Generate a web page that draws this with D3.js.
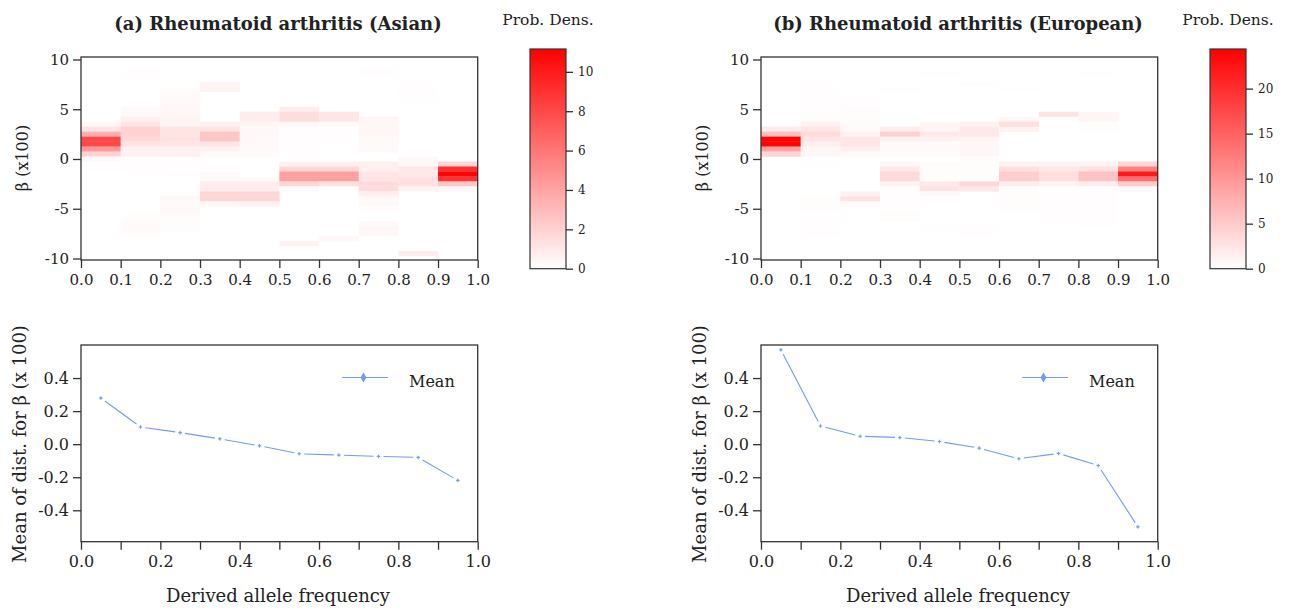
<!DOCTYPE html>
<html lang="en">

<head>
    <meta charset="utf-8">
    <title>Rheumatoid arthritis - beta vs DAF</title>
    <script type="text/javascript" src="https://cdn.jsdelivr.net/npm/d3@7"></script>
    <style>
        body { margin: 0; background: #fff; }
        svg text { font-family: "DejaVu Serif", serif; fill: #222; }
        .frame { fill: none; stroke: #333; stroke-width: 1.3; }
        .axis path { display: none; }
        .axis line { stroke: #333; stroke-width: 1.3; }
    </style>
</head>

<body>
    <script type="text/javascript">
        // Width and height
        var w = 1290;
        var h = 610;

        // Data ------------------------------------------------
        var titles = ["(a) Rheumatoid arthritis (Asian)", "(b) Rheumatoid arthritis (European)"];
        var freqBins = [0.0, 0.1, 0.2, 0.3, 0.4, 0.5, 0.6, 0.7, 0.8, 0.9]; // left edge of each DAF bin
        var betaStep = 0.5;
        var heatTicksY = [-10, -5, 0, 5, 10];
        var heatTicksX = [0.0, 0.1, 0.2, 0.3, 0.4, 0.5, 0.6, 0.7, 0.8, 0.9, 1.0];

        // one list per DAF bin: [beta centre, prob. density]
        var densityAsian = [
            [[3.5, 0.3], [3, 1.2], [2.5, 3.5], [2, 8], [1.5, 8], [1, 4.5], [0.5, 2], [0, 0.3], [-0.5, 0.1]],
            [[9, 0.1], [8.5, 0.1], [8, 0.1], [5, 0.2], [4.5, 0.3], [4, 0.7], [3.5, 1.2], [3, 2], [2.5, 2], [2, 1.6], [1.5, 1.2], [1, 0.6], [0.5, 0.6], [0, 0.1], [-0.5, 0.1], [-1, 0.1], [-5.5, 0.1], [-6, 0.15], [-6.5, 0.25], [-7, 0.25], [-7.5, 0.15], [-8, 0.1]],
            [[7, 0.15], [6.5, 0.2], [6, 0.3], [5.5, 0.3], [5, 0.35], [4.5, 0.4], [4, 0.5], [3.5, 0.5], [3, 1.2], [2.5, 1.2], [2, 1.3], [1.5, 1.2], [1, 0.6], [0.5, 0.6], [-0.5, 0.1], [-1.5, 0.1], [-2.5, 0.1], [-3.5, 0.15], [-4, 0.3], [-4.5, 0.3], [-5, 0.3], [-5.5, 0.2], [-6, 0.15], [-6.5, 0.15], [-7, 0.15]],
            [[7.5, 0.5], [7, 0.5], [3.5, 0.6], [3, 1.2], [2.5, 2.5], [2, 2.5], [1.5, 1.2], [1, 0.6], [0.5, 0.2], [-1.5, 0.2], [-2, 0.2], [-2.5, 0.8], [-3, 0.8], [-3.5, 1.8], [-4, 1.8], [-4.5, 0.4]],
            [[4.5, 0.8], [4, 0.8], [3.5, 0.4], [3, 0.3], [2.5, 0.3], [2, 0.25], [1.5, 0.25], [1, 0.2], [0.5, 0.2], [-2, 0.2], [-2.5, 0.8], [-3, 0.8], [-3.5, 1.8], [-4, 1.8], [-4.5, 0.6]],
            [[5, 0.8], [4.5, 1.5], [4, 1.5], [3.5, 0.3], [3, 0.1], [2.5, 0.1], [2, 0.1], [1.5, 0.1], [1, 0.1], [-0.5, 0.6], [-1, 1.8], [-1.5, 4.2], [-2, 4.2], [-2.5, 1.8], [-3, 0.2], [-8.5, 0.6]],
            [[4.5, 1.1], [4, 1.1], [3.5, 0.2], [3, 0.1], [2.5, 0.1], [-0.5, 0.6], [-1, 1.8], [-1.5, 4.2], [-2, 4.2], [-2.5, 1.3], [-3, 0.1], [-8, 0.3]],
            [[9, 0.1], [8.5, 0.1], [4, 0.4], [3.5, 0.4], [3, 0.4], [2.5, 0.4], [2, 0.2], [1.5, 0.2], [1, 0.2], [-0.5, 0.7], [-1, 0.7], [-1.5, 1.2], [-2, 1.2], [-2.5, 1.6], [-3, 1.6], [-3.5, 0.7], [-4, 0.25], [-4.5, 0.25], [-5, 0.15], [-6.5, 0.25], [-7, 0.35], [-7.5, 0.3]],
            [[7, 0.1], [6.5, 0.1], [6, 0.1], [0, 0.3], [-0.5, 0.3], [-1, 1], [-1.5, 1], [-2, 1.4], [-2.5, 1.4], [-3, 0.5], [-9.5, 0.8]],
            [[-0.5, 1.8], [-1, 9], [-1.5, 11], [-2, 9], [-2.5, 2.5], [-3, 0.4]]
        ];

        var densityEuropean = [
            [[3, 2], [2.5, 6], [2, 24], [1.5, 24], [1, 9], [0.5, 4]],
            [[7, 0.15], [6.5, 0.15], [6, 0.2], [5.5, 0.2], [5, 0.2], [4.5, 0.25], [4, 0.3], [3.5, 1.2], [3, 2.5], [2.5, 3.5], [2, 2.5], [1.5, 1.6], [1, 0.8], [0.5, 0.8], [0, 0.15], [-0.5, 0.15], [-3.5, 0.15], [-4, 0.3], [-4.5, 0.3], [-5, 0.3], [-5.5, 0.2], [-6, 0.15], [-6.5, 0.15], [-7, 0.15], [-7.5, 0.15]],
            [[5.5, 0.2], [5, 0.3], [4.5, 0.3], [4, 0.3], [3.5, 0.4], [3, 0.4], [2.5, 1.2], [2, 2.5], [1.5, 2.5], [1, 1.6], [0.5, 0.5], [-3.5, 1.2], [-4, 2.8], [-4.5, 0.6]],
            [[7, 0.25], [3, 1.8], [2.5, 4.5], [2, 1.2], [1.5, 0.4], [1, 0.4], [0.5, 0.4], [-0.5, 0.8], [-1, 2.2], [-1.5, 3.5], [-2, 3.5], [-2.5, 1.2], [-3, 0.2], [-3.5, 0.2], [-4, 0.2], [-4.5, 0.2], [-5, 0.2], [-5.5, 0.25], [-6, 0.25]],
            [[8.5, 0.15], [3.5, 1], [3, 1], [2.5, 2.2], [2, 1.2], [1.5, 0.4], [1, 0.4], [0.5, 0.4], [-0.5, 0.3], [-1, 0.3], [-1.5, 0.3], [-2, 0.3], [-2.5, 2.2], [-3, 2.8], [-3.5, 0.5], [-7, 0.15]],
            [[7.5, 0.15], [3.5, 1.2], [3, 2.2], [2.5, 2.2], [2, 0.8], [1.5, 0.8], [1, 0.8], [0.5, 0.8], [0, 0.3], [-0.5, 0.3], [-1, 0.3], [-1.5, 0.3], [-2.5, 3.8], [-3, 2.2], [-7, 0.2], [-7.5, 0.2]],
            [[7, 0.15], [4, 0.8], [3.5, 3.2], [3, 1.2], [-0.5, 1.2], [-1, 3.2], [-1.5, 4.8], [-2, 4.8], [-2.5, 1.8], [-3, 0.3], [-3.5, 0.3], [-4, 0.3], [-4.5, 0.3], [-5, 0.3]],
            [[4.5, 2.8], [4, 0.2], [-0.5, 1.2], [-1, 2.2], [-1.5, 3.2], [-2, 3.2], [-2.5, 1.2], [-3, 0.15], [-3.5, 0.15], [-4, 0.15], [-4.5, 0.15], [-5, 0.15], [-5.5, 0.15], [-6, 0.15]],
            [[8.5, 0.1], [4.5, 1], [4, 1], [3.5, 0.3], [3, 0.3], [-0.5, 1.2], [-1, 2.8], [-1.5, 5.8], [-2, 5.8], [-2.5, 1.8], [-3, 0.15], [-3.5, 0.15], [-4, 0.15], [-4.5, 0.15], [-5, 0.15], [-5.5, 0.15], [-6, 0.15], [-6.5, 0.15]],
            [[-0.5, 4], [-1, 12], [-1.5, 22], [-2, 14], [-2.5, 5], [-3, 0.6]]
        ];

        var densityMax = [11.16, 24.4];
        var colorTicksAsian = [0, 2, 4, 6, 8, 10];
        var colorTicksEuropean = [0, 5, 10, 15, 20];

        // mean beta per DAF bin (bin centres 0.05 ... 0.95)
        var dafCentres = [0.05, 0.15, 0.25, 0.35, 0.45, 0.55, 0.65, 0.75, 0.85, 0.95];
        var meanAsian = [0.279, 0.104, 0.070, 0.032, -0.010, -0.058, -0.066, -0.074, -0.080, -0.219];
        var meanEuropean = [0.571, 0.110, 0.048, 0.040, 0.016, -0.024, -0.088, -0.056, -0.129, -0.500];
        var meanTicksY = [-0.4, -0.2, 0.0, 0.2, 0.4];
        var meanTicksX = [0.0, 0.2, 0.4, 0.6, 0.8, 1.0];

        var lineColor = "#6f9cf7";

        // plain hyphen minus, like the original
        function fmt1(d) { return d.toFixed(1); }

        // SVG ------------------------------------------------
        var svg = d3.select("body")
            .append("svg")
            .attr("width", w)
            .attr("height", h);

        var defs = svg.append("defs");

        function drawPanel(k, offsetX, density, maxD, colorTicks, means) {
            var x0 = offsetX + 81, x1 = offsetX + 477.7;

            // Heatmap ---------------------------------------
            var xScale = d3.scaleLinear().domain([0, 1]).range([x0, x1]);
            var yScale = d3.scaleLinear().domain([-10.15, 10.25]).range([260, 57]);
            var color = d3.scaleLinear().domain([0, maxD]).range(["#ffffff", "#ff0000"]).clamp(true);

            var g = svg.append("g");

            svg.append("text")
                .attr("x", offsetX + 278)
                .attr("y", 30)
                .attr("text-anchor", "middle")
                .attr("font-weight", "bold")
                .attr("font-size", "18px")
                .text(titles[k]);

            freqBins.forEach(function(f, i) {
                g.selectAll(null)
                    .data(density[i])
                    .enter()
                    .append("rect")
                    .attr("x", xScale(f))
                    .attr("width", xScale(f + 0.1) - xScale(f) + 0.3)
                    .attr("y", function(d) { return yScale(d[0] + betaStep / 2); })
                    .attr("height", function(d) { return yScale(d[0] - betaStep / 2) - yScale(d[0] + betaStep / 2) + 0.3; })
                    .attr("fill", function(d) { return color(d[1]); });
            });

            svg.append("rect").attr("class", "frame")
                .attr("x", x0).attr("y", 57)
                .attr("width", x1 - x0).attr("height", 203);

            var ay = svg.append("g").attr("class", "axis")
                .attr("transform", "translate(" + x0 + ",0)")
                .call(d3.axisLeft(yScale).tickValues(heatTicksY).tickSize(8).tickPadding(4)
                    .tickFormat(function(d) { return String(d); }));
            ay.selectAll("text").attr("font-size", "15px");

            var ax = svg.append("g").attr("class", "axis")
                .attr("transform", "translate(0,260)")
                .call(d3.axisBottom(xScale).tickValues(heatTicksX).tickSize(8).tickPadding(6)
                    .tickFormat(fmt1));
            ax.selectAll("text").attr("font-size", "15px");

            svg.append("text")
                .attr("transform", "translate(" + (offsetX + 28) + ",158) rotate(-90)")
                .attr("text-anchor", "middle")
                .attr("font-size", "16px")
                .attr("fill", "#333")
                .text("\u03b2 (x100)");

            // Colour bar ------------------------------------
            var cbX = k === 0 ? 530 : 1210;
            var cScale = d3.scaleLinear().domain([0, maxD]).range([268.7, 49]);
            var grad = defs.append("linearGradient")
                .attr("id", "grad" + k)
                .attr("x1", 0).attr("y1", 1).attr("x2", 0).attr("y2", 0);
            grad.append("stop").attr("offset", 0).attr("stop-color", "#ffffff");
            grad.append("stop").attr("offset", 1).attr("stop-color", "#ff0000");

            svg.append("rect")
                .attr("x", cbX).attr("y", 49)
                .attr("width", 36).attr("height", 219.7)
                .attr("fill", "url(#grad" + k + ")")
                .attr("stroke", "#333").attr("stroke-width", 1.2);

            var cb = svg.append("g").attr("class", "axis")
                .attr("transform", "translate(" + (cbX + 36) + ",0)")
                .call(d3.axisRight(cScale).tickValues(colorTicks).tickSize(7).tickPadding(5));
            cb.selectAll("text").attr("font-size", "12px").attr("font-family", "DejaVu Sans").attr("fill", "#333");

            svg.append("text")
                .attr("x", cbX + 18).attr("y", 25)
                .attr("text-anchor", "middle")
                .attr("font-size", "15.5px")
                .text("Prob. Dens.");

            // Mean line -------------------------------------
            var ly = d3.scaleLinear().domain([-0.59, 0.6]).range([541.7, 345]);

            svg.append("rect").attr("class", "frame")
                .attr("x", x0).attr("y", 345)
                .attr("width", x1 - x0).attr("height", 196.7);

            var my = svg.append("g").attr("class", "axis")
                .attr("transform", "translate(" + x0 + ",0)")
                .call(d3.axisLeft(ly).tickValues(meanTicksY).tickSize(8).tickPadding(4)
                    .tickFormat(fmt1));
            my.selectAll("text").attr("font-size", "16px");

            var mx = svg.append("g").attr("class", "axis")
                .attr("transform", "translate(0,541.7)")
                .call(d3.axisBottom(xScale).tickValues(heatTicksX).tickSize(8).tickPadding(6)
                    .tickFormat(function(d) {
                        return meanTicksX.some(function(t) { return Math.abs(t - d) < 1e-9; }) ? fmt1(d) : "";
                    }));
            mx.selectAll("text").attr("font-size", "16px");

            // segments with a gap round every point (R type = "b")
            var pts = dafCentres.map(function(d, i) { return [xScale(d), ly(means[i])]; });
            var gap = 5;
            var segs = [];
            for (var i = 0; i < pts.length - 1; i++) {
                var dx = pts[i + 1][0] - pts[i][0], dy = pts[i + 1][1] - pts[i][1];
                var len = Math.sqrt(dx * dx + dy * dy);
                if (len > 2 * gap) {
                    segs.push([
                        [pts[i][0] + dx * gap / len, pts[i][1] + dy * gap / len],
                        [pts[i + 1][0] - dx * gap / len, pts[i + 1][1] - dy * gap / len]
                    ]);
                }
            }
            svg.selectAll(null)
                .data(segs)
                .enter()
                .append("line")
                .attr("x1", function(d) { return d[0][0]; })
                .attr("y1", function(d) { return d[0][1]; })
                .attr("x2", function(d) { return d[1][0]; })
                .attr("y2", function(d) { return d[1][1]; })
                .attr("stroke", lineColor)
                .attr("stroke-width", 1.1);

            svg.selectAll(null)
                .data(pts)
                .enter()
                .append("path")
                .attr("d", d3.symbol().type(d3.symbolCross).size(7))
                .attr("transform", function(d) { return "translate(" + d[0] + "," + d[1] + ")"; })
                .attr("fill", lineColor);

            // legend
            svg.append("line")
                .attr("x1", offsetX + 342).attr("x2", offsetX + 388)
                .attr("y1", 377.5).attr("y2", 377.5)
                .attr("stroke", lineColor).attr("stroke-width", 1.1);
            svg.append("path")
                .attr("d", d3.symbol().type(d3.symbolDiamond).size(30))
                .attr("transform", "translate(" + (offsetX + 363.5) + ",377.5)")
                .attr("fill", lineColor);
            svg.append("text")
                .attr("x", offsetX + 409).attr("y", 387)
                .attr("font-size", "16px")
                .text("Mean");

            svg.append("text")
                .attr("x", offsetX + 278).attr("y", 602)
                .attr("text-anchor", "middle")
                .attr("font-size", "18px")
                .text("Derived allele frequency");

            svg.append("text")
                .attr("transform", "translate(" + (offsetX + 26) + ",444) rotate(-90)")
                .attr("text-anchor", "middle")
                .attr("font-size", "18px")
                .text("Mean of dist. for \u03b2 (x 100)");
        }

        drawPanel(0, 0, densityAsian, densityMax[0], colorTicksAsian, meanAsian);
        drawPanel(1, 680, densityEuropean, densityMax[1], colorTicksEuropean, meanEuropean);
    </script>

</body>

</html>
